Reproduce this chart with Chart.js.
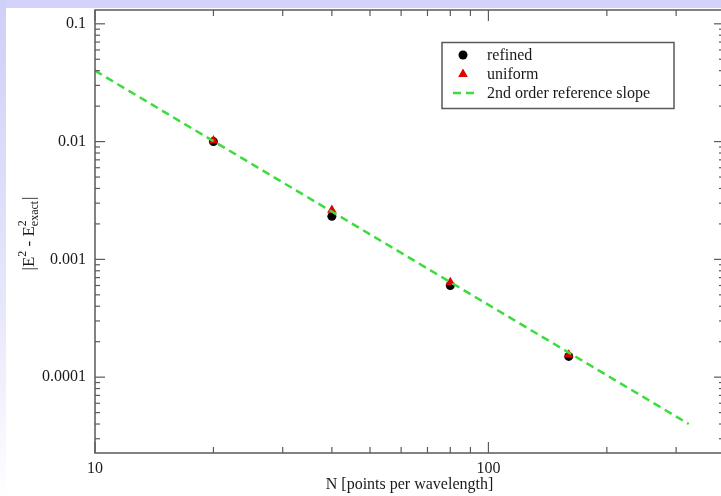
<!DOCTYPE html>
<html>
<head>
<meta charset="UTF-8">
<title>Convergence</title>
<script src="https://cdn.jsdelivr.net/npm/chart.js"></script>
<style>
  html, body { margin: 0; padding: 0; background: #fff; overflow: hidden; width: 721px; height: 496px; }
  .band-top { position: absolute; left: 0; top: 0; width: 721px; height: 8px; background: #d2d2fa; }
  .band-left { position: absolute; left: 0; top: 0; width: 6px; height: 496px;
               background: linear-gradient(#cfcff8, #e6e6fb 60%, #fbfbff 95%, #fff); }
  .wrap { position: absolute; left: 0; top: 0; width: 734px; height: 496px; }
</style>
</head>
<body>
<div class="band-top"></div>
<div class="band-left"></div>
<div class="wrap"><canvas id="chart"></canvas></div>
<script>
// data
const nValues = [20, 40, 80, 160];
const refinedErr = [0.0100, 0.00232, 0.00060, 0.000150];
const uniformErr = [0.0102, 0.00262, 0.00064, 0.000155];
const slopeN = [10, 323];
const slopeErr = [0.04, 0.00004];

// axes
const xMajorTicks = [10, 100];
const xMinorTicks = [20, 30, 40, 50, 60, 70, 80, 90, 200, 300];
const yMajorTicks = [0.0001, 0.001, 0.01, 0.1];
const yTickLabels = ['0.0001', '0.001', '0.01', '0.1'];
const yMinorSteps = [2, 3, 4, 5, 6, 7, 8, 9];
const xRange = [10, 397];
const yRange = [2.27e-5, 0.131];

const legendLabels = ['refined', 'uniform', '2nd order reference slope'];

const serif = '"Liberation Serif", "DejaVu Serif", serif';
const axisColor = '#5a5a5a';
const textColor = '#1a1a1a';
const green = '#3ddc3d';

const yMinorTicks = [];
[1e-5, 1e-4, 1e-3, 1e-2, 1e-1].forEach(d => yMinorSteps.forEach(s => {
  const v = +(d * s).toPrecision(3);
  if (v > yRange[0] && v < yRange[1]) yMinorTicks.push(v);
}));

function isMajor(list, v) {
  return list.some(m => Math.abs(m - v) / m < 1e-6);
}

// inward ticks on all four sides plus the box
const frameTicks = {
  id: 'frameTicks',
  afterDraw(chart) {
    const { ctx, chartArea: a, scales: { x, y } } = chart;
    ctx.save();
    ctx.strokeStyle = axisColor;
    ctx.lineWidth = 1.5;
    ctx.strokeRect(a.left, a.top, a.right - a.left, a.bottom - a.top);
    ctx.lineWidth = 1.2;
    const seg = (x1, y1, x2, y2) => { ctx.beginPath(); ctx.moveTo(x1, y1); ctx.lineTo(x2, y2); ctx.stroke(); };
    x.ticks.forEach(t => {
      const px = x.getPixelForValue(t.value);
      const len = isMajor(xMajorTicks, t.value) ? 11 : 6;
      seg(px, a.bottom, px, a.bottom - len);
      seg(px, a.top, px, a.top + len);
    });
    y.ticks.forEach(t => {
      const py = y.getPixelForValue(t.value);
      const len = isMajor(yMajorTicks, t.value) ? 10 : 5;
      seg(a.left, py, a.left + len, py);
      seg(a.right, py, a.right - len, py);
    });
    ctx.restore();
  }
};

// |E^2 - E^2_exact| rotated title
const yTitle = {
  id: 'yTitle',
  afterDraw(chart) {
    const { ctx, chartArea: a } = chart;
    const big = '17px ' + serif, small = '12px ' + serif;
    const parts = [
      { t: '|E', f: big, dy: 0 },
      { t: '2', f: small, dy: -8 },
      { t: ' - E', f: big, dy: 0 },
      { t: '2', f: small, dy: -8, stack: 'exact' },
      { t: '|', f: big, dy: 0 }
    ];
    ctx.save();
    ctx.fillStyle = textColor;
    ctx.textBaseline = 'alphabetic';
    let w = 0;
    parts.forEach(p => {
      ctx.font = p.f;
      p.w = ctx.measureText(p.t).width;
      if (p.stack) p.w = Math.max(p.w, ctx.measureText(p.stack).width) + 1;
      w += p.w;
    });
    ctx.translate(34, (a.top + a.bottom) / 2 + 2);
    ctx.rotate(-Math.PI / 2);
    let u = -w / 2;
    parts.forEach(p => {
      ctx.font = p.f;
      ctx.fillText(p.t, u, p.dy);
      if (p.stack) ctx.fillText(p.stack, u, 4);
      u += p.w;
    });
    ctx.restore();
  }
};

// boxed legend inside the plot
const boxLegend = {
  id: 'boxLegend',
  afterDraw(chart) {
    const { ctx, chartArea: a } = chart;
    const left = a.left + 347, top = a.top + 32.5, w = 232, h = 66;
    ctx.save();
    ctx.fillStyle = '#fff';
    ctx.fillRect(left, top, w, h);
    ctx.strokeStyle = axisColor;
    ctx.lineWidth = 1.5;
    ctx.strokeRect(left, top, w, h);
    const sx = left + 21, tx = left + 45;
    const rows = [top + 12.5, top + 31.5, top + 50.5];
    // refined
    ctx.fillStyle = '#000';
    ctx.beginPath(); ctx.arc(sx, rows[0], 4.5, 0, Math.PI * 2); ctx.fill();
    // uniform
    ctx.fillStyle = '#e00000';
    ctx.beginPath();
    ctx.moveTo(sx, rows[1] - 5.5);
    ctx.lineTo(sx + 4.8, rows[1] + 3);
    ctx.lineTo(sx - 4.8, rows[1] + 3);
    ctx.closePath(); ctx.fill();
    // slope
    ctx.strokeStyle = green;
    ctx.lineWidth = 2.5;
    ctx.setLineDash([8, 5]);
    ctx.beginPath(); ctx.moveTo(sx - 10, rows[2]); ctx.lineTo(sx + 11, rows[2]); ctx.stroke();
    ctx.setLineDash([]);
    ctx.fillStyle = textColor;
    ctx.font = '16px ' + serif;
    ctx.textBaseline = 'middle';
    legendLabels.forEach((l, i) => ctx.fillText(l, tx, rows[i] + 1));
    ctx.restore();
  }
};

const tickFont = { family: serif, size: 16 };

new Chart(document.getElementById('chart'), {
  type: 'scatter',
  data: {
    datasets: [
      {
        label: legendLabels[2],
        data: slopeN.map((n, i) => ({ x: n, y: slopeErr[i] })),
        showLine: true,
        borderColor: green,
        borderWidth: 2.5,
        borderDash: [8, 5],
        pointRadius: 0,
        fill: false
      },
      {
        label: legendLabels[1],
        data: nValues.map((n, i) => ({ x: n, y: uniformErr[i] })),
        pointStyle: 'triangle',
        pointRadius: 5.5,
        backgroundColor: '#e00000',
        borderColor: '#e00000',
        borderWidth: 0
      },
      {
        label: legendLabels[0],
        data: nValues.map((n, i) => ({ x: n, y: refinedErr[i] })),
        pointStyle: 'circle',
        pointRadius: 4.5,
        backgroundColor: '#000',
        borderColor: '#000',
        borderWidth: 0
      }
    ]
  },
  options: {
    responsive: true,
    maintainAspectRatio: false,
    animation: false,
    layout: { padding: { top: 10, right: 10, left: 0, bottom: 0 } },
    plugins: { legend: { display: false }, tooltip: { enabled: false } },
    scales: {
      x: {
        type: 'logarithmic',
        min: xRange[0],
        max: xRange[1],
        grid: { display: false, drawTicks: false },
        border: { display: false },
        afterBuildTicks: s => { s.ticks = xMajorTicks.concat(xMinorTicks).map(v => ({ value: v })); },
        afterFit: s => { s.height = 43; s.paddingLeft = 0; s.paddingRight = 0; },
        ticks: {
          autoSkip: false, maxRotation: 0, padding: 6,
          color: textColor, font: tickFont,
          callback: v => isMajor(xMajorTicks, v) ? String(v) : ''
        },
        title: {
          display: true, text: 'N [points per wavelength]',
          color: textColor, font: tickFont, padding: { top: 0, bottom: 2 }
        }
      },
      y: {
        type: 'logarithmic',
        min: yRange[0],
        max: yRange[1],
        grid: { display: false, drawTicks: false },
        border: { display: false },
        afterBuildTicks: s => { s.ticks = yMajorTicks.concat(yMinorTicks).map(v => ({ value: v })); },
        afterFit: s => { s.width = 95; s.paddingTop = 0; s.paddingBottom = 0; },
        ticks: {
          autoSkip: false, padding: 9,
          color: textColor, font: tickFont,
          callback: v => {
            const i = yMajorTicks.findIndex(m => Math.abs(m - v) / m < 1e-6);
            return i >= 0 ? yTickLabels[i] : '';
          }
        }
      }
    }
  },
  plugins: [frameTicks, yTitle, boxLegend]
});
</script>
</body>
</html>
